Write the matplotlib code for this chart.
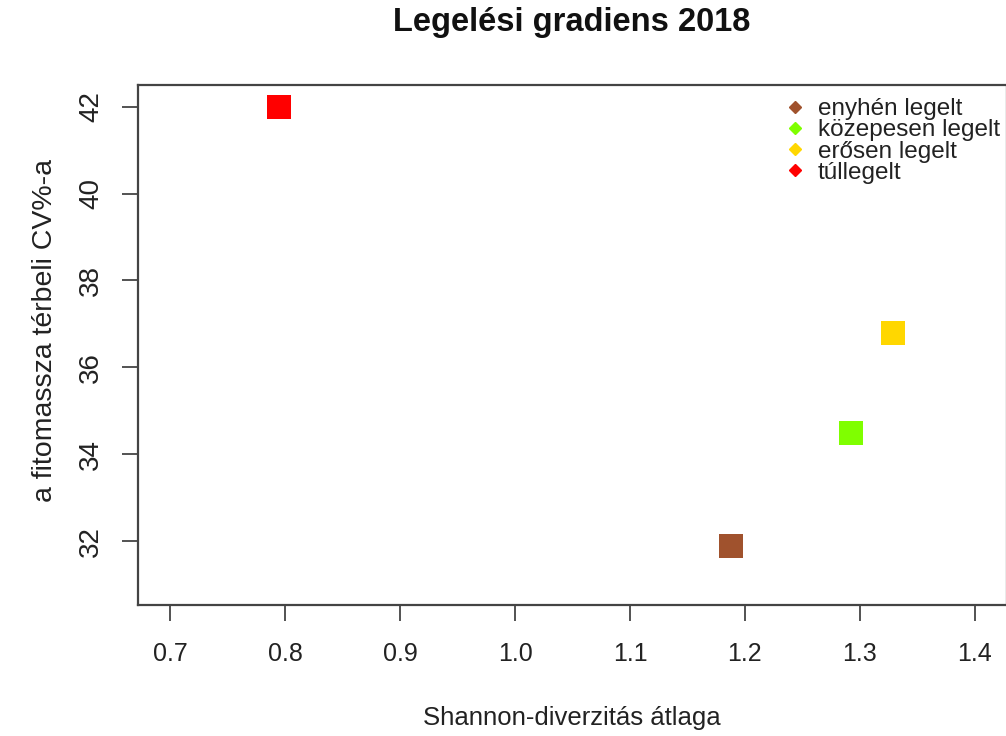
import matplotlib
matplotlib.use("Agg")
import matplotlib.pyplot as plt
from matplotlib.lines import Line2D

plt.rcParams['font.family'] = ['Liberation Sans', 'DejaVu Sans']

# grazing categories, mean Shannon diversity and spatial CV% of phytomass
categories = ['enyhén legelt', 'közepesen legelt', 'erősen legelt', 'túllegelt']
shannon = [1.188, 1.292, 1.329, 0.795]
cv_pct = [31.88, 34.50, 36.79, 41.99]
colors = ['#A0522D', '#7FFF00', '#FFD700', '#FF0000']

x_ticks = [0.7, 0.8, 0.9, 1.0, 1.1, 1.2, 1.3, 1.4]
y_ticks = [32, 34, 36, 38, 40, 42]

fig = plt.figure(figsize=(10.06, 7.36), dpi=100)
ax = fig.add_axes([138 / 1006, 131 / 736, 869 / 1006, 520 / 736])

ax.scatter(shannon, cv_pct, c=colors, marker='s', s=24 ** 2 * 0.52, linewidths=0, zorder=3)

# R-style padded limits
ax.set_xlim(0.7 - 0.028, 1.4 + 0.028)
ax.set_ylim(30.53, 42.5)

ax.set_xticks(x_ticks)
ax.set_xticklabels([f'{v:.1f}' for v in x_ticks])
ax.set_yticks(y_ticks)
ax.set_yticklabels([str(v) for v in y_ticks], rotation=90, va='center')

for s in ax.spines.values():
    s.set_linewidth(1.6)
    s.set_color('#444444')
ax.tick_params(axis='both', direction='out', length=11.5, width=1.3, color='#444444',
               labelcolor='#222222')
ax.tick_params(axis='x', pad=15, labelsize=18)
ax.tick_params(axis='y', pad=13, labelsize=20)

fig.text(572 / 1006, 1 - 718 / 736, 'Shannon-diverzitás átlaga', ha='center', va='center',
         fontsize=18.5, color='#222222')
fig.text(45 / 1006, 1 - 331 / 736, 'a fitomassza térbeli CV%-a', ha='center', va='center',
         rotation=90, fontsize=20.5, color='#222222')

fig.text(572 / 1006, 1 - 23 / 736, 'Legelési gradiens 2018', ha='center', va='center',
         fontsize=23.5, fontweight='bold', color='#111111')

handles = [Line2D([], [], linestyle='none', marker='D', markersize=6.5, color=c) for c in colors]
leg = ax.legend(handles, categories, loc='upper left', bbox_to_anchor=(0.742, 0.975),
                frameon=False, fontsize=17.5, labelspacing=-0.03, handletextpad=0.45,
                handlelength=1.0, borderpad=0, borderaxespad=0)
for t in leg.get_texts():
    t.set_color('#222222')

fig.savefig('out.png', dpi=100)
